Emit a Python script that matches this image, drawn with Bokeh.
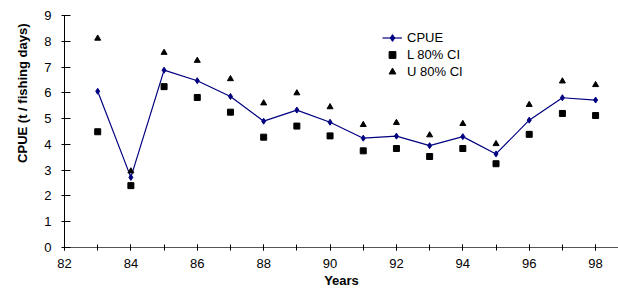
from bokeh.plotting import figure
from bokeh.models import (Range1d, SingleIntervalTicker, Legend, LegendItem, Title)
from bokeh.embed import file_html
from bokeh.resources import INLINE

years = [83, 84, 85, 86, 87, 88, 89, 90, 91, 92, 93, 94, 95, 96, 97, 98]
cpue = [6.06, 2.72, 6.88, 6.47, 5.86, 4.90, 5.33, 4.86, 4.24, 4.32, 3.95, 4.30, 3.63, 4.94, 5.81, 5.72]
lower_ci = [4.49, 2.40, 6.24, 5.82, 5.25, 4.28, 4.71, 4.33, 3.75, 3.84, 3.53, 3.84, 3.25, 4.39, 5.20, 5.12]
upper_ci = [8.11, 2.96, 7.56, 7.25, 6.54, 5.60, 5.99, 5.45, 4.76, 4.84, 4.36, 4.80, 4.02, 5.54, 6.45, 6.31]

FONT = "Liberation Sans"

p = figure(width=618, height=291, output_backend="svg", toolbar_location=None,
           x_range=Range1d(82, 98.69), y_range=Range1d(0, 9),
           min_border_left=64, min_border_right=0, min_border_top=15, min_border_bottom=44)
p.outline_line_color = None
p.grid.grid_line_color = None
p.background_fill_color = "white"

# axes
p.xaxis.ticker = SingleIntervalTicker(interval=2, num_minor_ticks=2)
p.yaxis.ticker = SingleIntervalTicker(interval=1, num_minor_ticks=0)
for ax in (p.xaxis[0], p.yaxis[0]):
    ax.major_label_text_font = FONT
    ax.major_label_text_font_size = "13px"
    ax.major_label_text_color = "black"
    ax.axis_label_text_font = FONT
    ax.axis_label_text_font_size = "13px"
    ax.axis_label_text_font_style = "bold"
    ax.axis_label_text_color = "black"
    ax.major_tick_line_color = "black"
    ax.minor_tick_line_color = "black"

p.xaxis.axis_line_color = "#555555"
p.xaxis.major_tick_in = 3
p.xaxis.major_tick_out = 3
p.xaxis.minor_tick_in = 3
p.xaxis.minor_tick_out = 3
p.xaxis.major_label_standoff = 8
p.xaxis.axis_label = "Years"
p.xaxis.axis_label_standoff = 2

p.yaxis.axis_line_color = "black"
p.yaxis.major_tick_in = 6
p.yaxis.major_tick_out = 3
p.yaxis.minor_tick_line_color = None
p.yaxis.major_label_standoff = 10

ytitle = Title(text="CPUE (t / fishing days)", align="right", offset=8,
               text_font=FONT, text_font_size="13px", text_font_style="bold",
               text_color="black", standoff=24)
p.add_layout(ytitle, "left")

line = p.line(years, cpue, line_color="#000080", line_width=1.2)
dia = p.scatter(years, cpue, marker="diamond", size=6, fill_color="#000080",
                line_color="#000080")
sq = p.scatter(years, lower_ci, marker="square", size=6, fill_color="black",
               line_color="black")
tri = p.scatter(years, upper_ci, marker="triangle", size=6, fill_color="black",
                line_color="black")

legend = Legend(items=[LegendItem(label="CPUE", renderers=[line, dia]),
                       LegendItem(label="L 80% CI", renderers=[sq]),
                       LegendItem(label="U 80% CI", renderers=[tri])],
                location=(318, 167), orientation="vertical",
                glyph_width=20, glyph_height=17, label_height=17, label_standoff=5,
                spacing=0, padding=0, margin=0,
                border_line_alpha=0, background_fill_alpha=0,
                label_text_font=FONT, label_text_font_size="13px",
                label_text_color="black")
p.add_layout(legend, "center")

open("out.html", "w").write(file_html(p, INLINE))
